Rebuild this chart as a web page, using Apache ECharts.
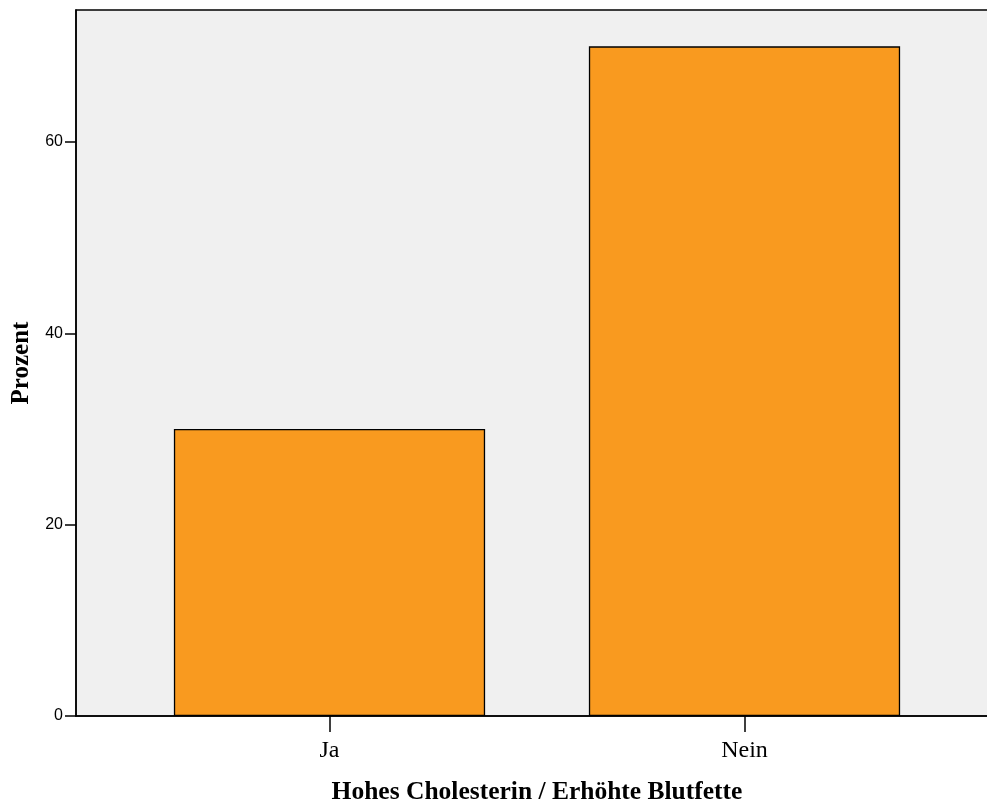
<!DOCTYPE html>
<html><head><meta charset="utf-8">
<script src="https://cdn.jsdelivr.net/npm/echarts@6/dist/echarts.min.js"></script>
<style>html,body{margin:0;padding:0;background:#fff}#c{width:987px;height:805px}</style>
</head><body><div id="c"></div>
<script>
const categories = ['Ja', 'Nein'];
const prozent = [30, 70];
const yTicks = [0, 20, 40, 60];

const chart = echarts.init(document.getElementById('c'));
chart.setOption({
  animation: false,
  backgroundColor: '#ffffff',
  grid: [
    {left: 76, right: -10, top: 10, bottom: 89, outerBoundsMode: 'none', containLabel: false,
     show: true, backgroundColor: '#f0f0f0', borderColor: '#000', borderWidth: 1.5},
    {left: 122, right: 35, top: 10, bottom: 89, outerBoundsMode: 'none', containLabel: false}
  ],
  xAxis: [
    {gridIndex: 0, type: 'value', min: 0, max: 1, show: true,
     axisLine: {show: true, onZero: false, lineStyle: {color: '#000', width: 1.5}}, axisTick: {show: false}, axisLabel: {show: false}, splitLine: {show: false}},
    {gridIndex: 1, type: 'category', data: categories,
     axisLine: {show: false, onZero: false}, axisTick: {show: true, alignWithLabel: true, length: 16, lineStyle: {color: '#000', width: 1.5}},
     axisLabel: {margin: 23, color: '#000', fontFamily: 'Liberation Serif', fontSize: 24},
     name: 'Hohes Cholesterin / Erhöhte Blutfette', nameLocation: 'middle', nameGap: 63,
     nameTextStyle: {color: '#000', fontFamily: 'Liberation Serif', fontWeight: 'bold', fontSize: 25.5}}
  ],
  yAxis: [
    {gridIndex: 0, type: 'value', min: 0, max: 73.8,
     axisLine: {show: true, lineStyle: {color: '#000', width: 1.5}},
     axisTick: {show: true, length: 11, customValues: yTicks, lineStyle: {color: '#000', width: 1.5}},
     axisLabel: {margin: 13, color: '#000', fontFamily: 'Liberation Sans', fontSize: 16, customValues: yTicks},
     splitLine: {show: false},
     name: 'Prozent', nameLocation: 'middle', nameGap: 40, nameRotate: 90,
     nameTextStyle: {color: '#000', fontFamily: 'Liberation Serif', fontWeight: 'bold', fontSize: 25}},
    {gridIndex: 1, type: 'value', min: 0, max: 73.8, show: false}
  ],
  series: [{
    type: 'bar', xAxisIndex: 1, yAxisIndex: 1, data: prozent, barWidth: '75%',
    itemStyle: {color: '#f99a1f', borderColor: '#000', borderWidth: 1.3}
  }]
});
</script></body></html>
